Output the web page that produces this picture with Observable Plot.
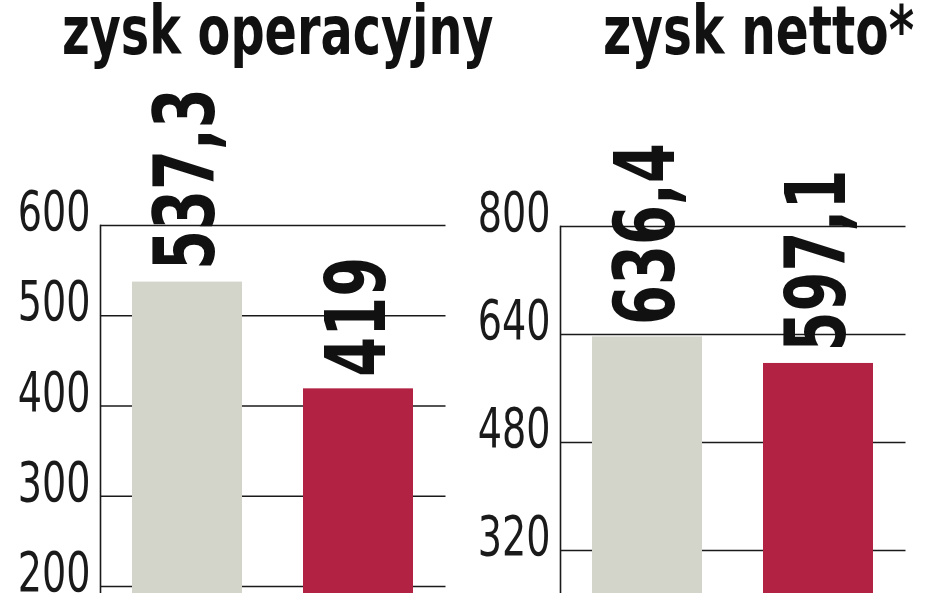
<!DOCTYPE html>
<html>
<head>
<meta charset="utf-8">
<script src="https://cdn.jsdelivr.net/npm/d3@7"></script>
<script src="https://cdn.jsdelivr.net/npm/@observablehq/plot@0.6"></script>
<style>
  html, body { margin: 0; padding: 0; background: #fff; overflow: hidden; }
  #wrap { position: relative; width: 948px; height: 593px; overflow: hidden; background: #fff; }
  .title { position: absolute; top: 1px; font-family: "DejaVu Sans Condensed", "DejaVu Sans", sans-serif;
           font-weight: bold; font-size: 68px; line-height: 60px; color: #111; white-space: nowrap;
           transform: scaleX(0.78); transform-origin: 0 0; }
  .panel { position: absolute; top: 80px; }
</style>
</head>
<body>
<div id="wrap">
  <div class="title" id="t1" style="left:62px">zysk operacyjny</div>
  <div class="title" id="t2" style="left:603px; transform: scaleX(0.795)">zysk netto*</div>
  <div class="panel" id="p1" style="left:0px"></div>
  <div class="panel" id="p2" style="left:460px"></div>
</div>
<script>
// Data
const periods = ["okres 1", "okres 2"];
const zyskOperacyjny = [537.3, 419];
const zyskNetto = [636.4, 597.1];
const ticksOperacyjny = [0, 100, 200, 300, 400, 500, 600];
const ticksNetto = [0, 160, 320, 480, 640, 800];
const barColors = ["#d4d5ca", "#b12243"];

const FONT = '"DejaVu Sans Condensed", "DejaVu Sans", sans-serif';
const fmt = v => String(v).replace(".", ",");

function panel(values, ticks, yMax, marginTop, plotH) {
  const data = periods.map((p, i) => ({period: p, value: values[i]}));
  return Plot.plot({
    width: 448,
    height: marginTop + plotH,
    marginTop,
    marginLeft: 100,
    marginRight: 2.5,
    marginBottom: 0,
    style: {fontFamily: FONT, background: "transparent", overflow: "visible"},
    x: {domain: periods, paddingInner: 0.3586, paddingOuter: 0.1866, axis: null},
    y: {domain: [0, yMax], axis: null},
    color: {domain: periods, range: barColors},
    marks: [
      Plot.ruleY(ticks, {stroke: "#1a1a1a", strokeWidth: 1.6}),
      Plot.frame({anchor: "left", stroke: "#1a1a1a", strokeWidth: 1.6}),
      Plot.barY(data, {x: "period", y: "value", fill: "period"}),
      Plot.axisY({ticks, label: null, tickSize: 0, tickPadding: 10, fontSize: 55, dy: -13, fill: "#1a1a1a",
                  tickFormat: d => String(d), fontWeight: "normal", ariaLabel: "tick-label"}),
      Plot.text(data, {x: "period", y: "value", text: d => fmt(d.value), rotate: -90,
                       textAnchor: "start", lineAnchor: "middle", dy: -12,
                       fontSize: 83, fontWeight: "bold", fill: "#111", ariaLabel: "bar-label"})
    ]
  });
}

// Narrow the DejaVu glyphs to the condensed look of the original typeface
function condense(svg) {
  svg.querySelectorAll("text").forEach(t => {
    const isBar = t.closest('[aria-label="bar-label"]') != null;
    const k = isBar ? 0.72 : 0.77;
    const L = t.getComputedTextLength();
    t.setAttribute("textLength", (L * k).toFixed(2));
    t.setAttribute("lengthAdjust", "spacingAndGlyphs");
  });
}

const s1 = panel(zyskOperacyjny, ticksOperacyjny, 600, 145, 541.5);
const s2 = panel(zyskNetto, ticksNetto, 800, 146, 540);
document.getElementById("p1").append(s1);
document.getElementById("p2").append(s2);
condense(s1);
condense(s2);
</script>
</body>
</html>
